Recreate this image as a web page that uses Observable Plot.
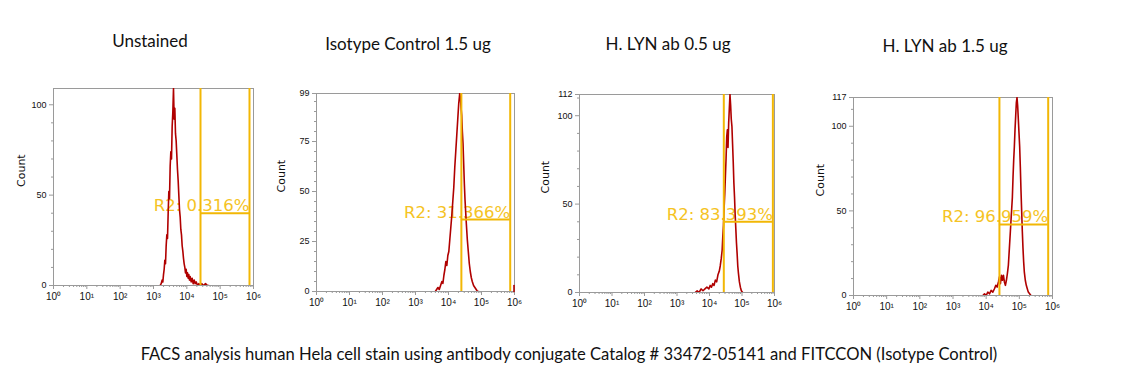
<!DOCTYPE html>
<html>
<head>
<meta charset="utf-8">
<script src="https://cdn.jsdelivr.net/npm/d3@7"></script>
<script src="https://cdn.jsdelivr.net/npm/@observablehq/plot@0.6"></script>
<style>
  html, body { margin: 0; padding: 0; background: #fff; }
  #root { position: relative; width: 1139px; height: 392px; overflow: hidden; font-family: Lato, "Open Sans", sans-serif; }
  .panel { position: absolute; }
  .title { position: absolute; transform: translate(-50%, -50%); font-size: 17px; color: #111; white-space: nowrap; }
  .caption { position: absolute; transform: translate(-50%, -50%); font-size: 16.6px; color: #111; white-space: nowrap; }
</style>
</head>
<body>
<div id="root"></div>
<script>
// ---------- data (log10 of fluorescence intensity, event count) ----------
const titles = ["Unstained", "Isotype Control 1.5 ug", "H. LYN ab 0.5 ug", "H. LYN ab 1.5 ug"];
const caption = "FACS analysis human Hela cell stain using antibody conjugate Catalog # 33472-05141 and FITCCON (Isotype Control)";
const gateLabels = ["R2: 0.316%", "R2: 31.366%", "R2: 83.393%", "R2: 96.959%"];

const unstainedLog = [3.20,3.23,3.26,3.28,3.30,3.32,3.34,3.36,3.38,3.40,3.42,3.44,3.46,3.48,3.50,3.52,3.54,3.56,3.58,3.60,3.62,3.64,3.66,3.68,3.70,3.72,3.74,3.76,3.78,3.80,3.82,3.84,3.86,3.88,3.90,3.92,3.94,3.96,3.98,4.00,4.02,4.04,4.06,4.08,4.10,4.13,4.16,4.19,4.22,4.25,4.28,4.32,4.36,4.40,4.45,4.50,4.56,4.62,4.66];
const unstainedCount = [0,1,3,2,6,9,14,12,22,28,26,40,52,48,66,74,70,88,96,109,92,98,84,80,72,64,58,50,42,38,31,28,22,19,15,12,10,7,9,5,7,4,6,3,5,2,4,1,3,1,2,0,1,0,1,0,1,0,0];

const isotypeLog = [3.60,3.64,3.68,3.72,3.76,3.80,3.83,3.86,3.89,3.92,3.95,3.98,4.01,4.04,4.07,4.10,4.13,4.16,4.19,4.22,4.25,4.28,4.31,4.34,4.36,4.38,4.40,4.42,4.44,4.46,4.48,4.50,4.52,4.54,4.57,4.60,4.63,4.66,4.69,4.72,4.76,4.80,4.84,4.88,4.92];
const isotypeCount = [0,1,2,1,3,5,4,8,11,15,13,18,20,26,32,38,45,52,62,70,78,86,94,99,97,92,88,80,74,64,54,46,40,34,26,20,14,10,7,5,3,2,1,0,0];
const isotypeEdgeLog = [5.985, 5.985];
const isotypeEdgeCount = [0, 3];

const lyn05Log = [3.56,3.62,3.68,3.74,3.80,3.86,3.92,3.98,4.02,4.06,4.10,4.14,4.18,4.22,4.26,4.30,4.33,4.36,4.39,4.41,4.43,4.45,4.47,4.49,4.51,4.53,4.55,4.57,4.59,4.61,4.63,4.65,4.67,4.69,4.71,4.73,4.75,4.77,4.79,4.81,4.83,4.85,4.87,4.89,4.92,4.95,4.98,5.02];
const lyn05Count = [0,1,0,2,1,2,3,2,4,3,5,4,7,6,10,12,15,19,24,32,38,48,56,66,76,88,92,82,96,104,112,106,98,94,84,74,62,54,44,36,28,22,15,11,6,3,1,0];

const lyn15Log = [3.90,3.95,4.00,4.05,4.10,4.15,4.20,4.25,4.29,4.33,4.37,4.40,4.43,4.46,4.49,4.52,4.55,4.58,4.61,4.64,4.67,4.70,4.73,4.76,4.79,4.81,4.83,4.85,4.87,4.89,4.91,4.93,4.95,4.97,4.99,5.01,5.03,5.05,5.07,5.09,5.11,5.13,5.15,5.18,5.21,5.24,5.27,5.31,5.35];
const lyn15Count = [0,1,0,2,1,3,2,4,6,5,8,11,7,12,9,12,8,6,9,13,18,28,38,48,58,70,80,88,98,106,114,117,112,104,96,88,76,62,50,38,28,20,14,9,6,4,2,1,0];

// gates: left edge, right edge (log10), marker height (count)
const gateLeft = [4.41, 4.39, 4.44, 4.40];
const gateRight = [5.88, 5.87, 5.95, 5.87];
const gateLevel = [40, 36, 40, 42];

// axes
const yMax = [109, 99, 112, 117];
const yLabelTicks = [[0,50,100],[0,25,50,75,99],[0,50,100,112],[0,50,100,117]];
const yMinorStep = [10, 5, 10, 10];
const xDecades = [1, 10, 100, 1000, 10000, 100000, 1000000];
const supers = ["⁰","¹","²","³","⁴","⁵","⁶"];

// ---------- layout ----------
const layout = [
  {left: 0,   top: 80, width: 270, height: 230, mL: 53, mR: 17, mT: 8,  mB: 25, countDx: -32, titleX: 150, titleY: 40},
  {left: 270, top: 80, width: 260, height: 235, mL: 46, mR: 16, mT: 13, mB: 24, countDx: -35, titleX: 408, titleY: 43},
  {left: 530, top: 80, width: 260, height: 235, mL: 49, mR: 16, mT: 14, mB: 23, countDx: -34, titleX: 668, titleY: 43},
  {left: 800, top: 80, width: 270, height: 240, mL: 53, mR: 18, mT: 17, mB: 25, countDx: -33, titleX: 945, titleY: 45}
];

const series = [
  [unstainedLog, unstainedCount],
  [isotypeLog, isotypeCount],
  [lyn05Log, lyn05Count],
  [lyn15Log, lyn15Count]
];

const minorX = [];
for (const d of xDecades.slice(0, -1)) for (let k = 2; k <= 9; k++) minorX.push(d * k);

const root = document.getElementById("root");
const histColor = "#b00000";
const gateColor = "#f2b705";
const gateText = "#f5c324";
const axisGrey = "#9a9a9a";

series.forEach(([lx, cy], i) => {
  const L = layout[i];
  const hist = lx.map((v, j) => ({x: 10 ** v, y: cy[j]}));
  const minorY = [];
  for (let v = yMinorStep[i]; v < yMax[i]; v += yMinorStep[i]) if (!yLabelTicks[i].includes(v)) minorY.push(v);
  const gl = 10 ** gateLeft[i], gr = 10 ** gateRight[i];
  const marks = [
    Plot.frame({stroke: axisGrey}),
    Plot.axisY({ticks: yLabelTicks[i], tickSize: 4, tickPadding: 3, stroke: axisGrey, fill: "#111",
      fontSize: 9, fontFamily: "'Liberation Sans Narrow','Liberation Sans',sans-serif", label: null}),
    Plot.axisY({ticks: minorY, tickSize: 2, tickFormat: () => "", stroke: axisGrey, label: null}),
    Plot.axisX({ticks: xDecades, tickSize: 4, tickPadding: 3, stroke: axisGrey, fill: "#111",
      tickFormat: d => "10" + supers[Math.round(Math.log10(d))],
      fontSize: 10, fontFamily: "'Liberation Sans',sans-serif", label: null}),
    Plot.axisX({ticks: minorX, tickSize: 2, tickFormat: () => "", stroke: axisGrey, label: null}),
    Plot.text(["Count"], {frameAnchor: "left", dx: L.countDx, rotate: -90, fontSize: 11,
      fontFamily: "'DejaVu Sans',sans-serif", fill: "#111"}),
    Plot.text([gateLabels[i]], {x: gr, y: gateLevel[i], textAnchor: "end", lineAnchor: "bottom", dy: -2,
      fontSize: 16.5, fontFamily: "'DejaVu Sans',sans-serif", fill: gateText}),
    Plot.line(hist, {x: "x", y: "y", stroke: histColor, strokeWidth: 1.6, clip: true}),
    Plot.ruleX([gl, gr], {y1: 0, y2: yMax[i], stroke: gateColor, strokeWidth: 2}),
    Plot.ruleY([gateLevel[i]], {x1: gl, x2: gr, stroke: gateColor, strokeWidth: 2})
  ];
  if (i === 1) {
    marks.push(Plot.line(isotypeEdgeLog.map((v, j) => ({x: 10 ** v, y: isotypeEdgeCount[j]})),
      {x: "x", y: "y", stroke: histColor, strokeWidth: 1.6}));
  }
  const chart = Plot.plot({
    width: L.width, height: L.height,
    marginLeft: L.mL, marginRight: L.mR, marginTop: L.mT, marginBottom: L.mB,
    x: {type: "log", domain: [1, 1e6], axis: null},
    y: {domain: [0, yMax[i]], axis: null},
    style: {background: "transparent", overflow: "visible"},
    marks
  });
  const wrap = document.createElement("div");
  wrap.className = "panel";
  wrap.style.left = L.left + "px";
  wrap.style.top = L.top + "px";
  wrap.appendChild(chart);
  root.appendChild(wrap);

  const t = document.createElement("div");
  t.className = "title";
  t.style.left = L.titleX + "px";
  t.style.top = L.titleY + "px";
  t.textContent = titles[i];
  root.appendChild(t);
});

const cap = document.createElement("div");
cap.className = "caption";
cap.style.left = "569px";
cap.style.top = "354px";
cap.textContent = caption;
root.appendChild(cap);
</script>
</body>
</html>
